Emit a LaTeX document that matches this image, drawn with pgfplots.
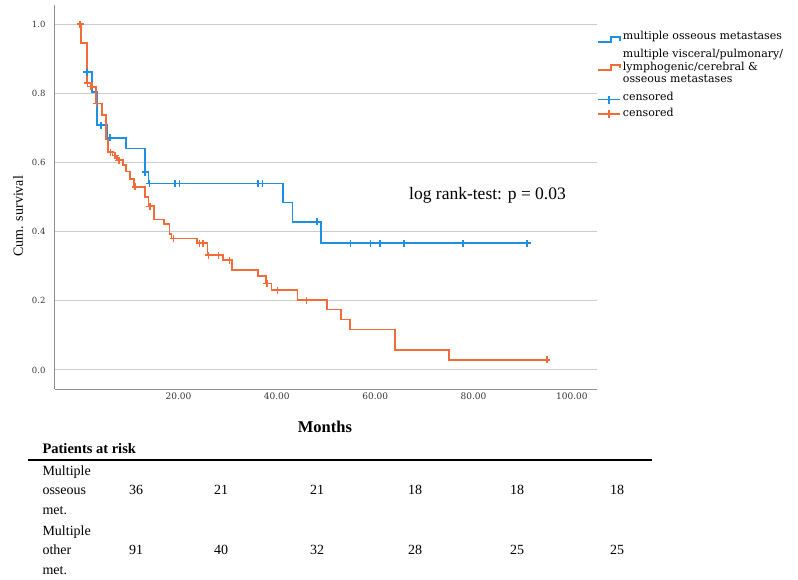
\documentclass[border=0pt]{standalone}
\usepackage{fontspec}
\setmainfont{Liberation Serif}
\newfontfamily\legfont{DejaVu Serif}
\usepackage{pgfplots}
\pgfplotsset{compat=1.18}

\definecolor{kmBlue}{HTML}{1E8FE3}
\definecolor{kmOrange}{HTML}{F26B38}
\definecolor{gridGray}{HTML}{CCCCCC}
\definecolor{axGray}{HTML}{8E8E8E}

% Kaplan-Meier steps: (month, survival), value holds until the next month
\pgfplotstableread{
t S
0.6 0.861
2.35 0.803
3.4 0.707
5.55 0.671
9.3 0.640
13.2 0.572
13.9 0.539
41.2 0.484
43.2 0.428
49.0 0.367
90.9 0.367
}\osseous
\pgfplotstableread{
t S
1.36 0.861
4.3 0.707
6.1 0.671
13.2 0.572
14.1 0.539
19.3 0.539
20.2 0.539
36.2 0.539
37.1 0.539
48.2 0.428
55.0 0.367
59.0 0.367
61.0 0.367
65.9 0.367
77.9 0.367
90.9 0.367
}\osseouscens
\pgfplotstableread{
t S
0 1.0
0.15 0.945
1.36 0.829
2.4 0.819
3.25 0.770
4.4 0.736
5.35 0.667
5.75 0.630
6.6 0.620
7.5 0.606
8.8 0.592
9.4 0.574
10.2 0.553
11.0 0.529
13.2 0.500
13.9 0.473
15.0 0.435
17.1 0.421
18.2 0.394
18.6 0.380
23.7 0.366
25.9 0.332
29.1 0.317
30.9 0.290
36.1 0.271
37.8 0.250
38.9 0.231
44.2 0.202
50.2 0.175
53.0 0.146
54.9 0.117
64.0 0.058
75.0 0.029
94.9 0.029
}\other
\pgfplotstableread{
t S
0 1.0
1.5 0.829
2.2 0.819
3.3 0.770
6.15 0.630
7.1 0.620
7.9 0.606
11.2 0.529
14.2 0.473
19.0 0.380
24.3 0.366
25.0 0.366
26.1 0.332
28.1 0.332
30.4 0.317
38.0 0.250
40.1 0.231
46.0 0.202
94.9 0.029
}\othercens

\pgfplotsset{
  steplegend/.style={legend image code/.code={
    \draw[line width=1.7pt] (0pt,-2.5pt) -- (13pt,-2.5pt) -- (13pt,2.5pt) -- (22pt,2.5pt) -- (22pt,-1pt);}},
  censlegend/.style={legend image code/.code={
    \draw[line width=1.7pt] (0pt,0pt) -- (22pt,0pt);
    \draw[line width=1.7pt] (11pt,-4pt) -- (11pt,4pt);}},
}

\begin{document}
\begin{tikzpicture}
\begin{axis}[
  name=ax,
  scale only axis, width=542pt, height=384pt,
  xmin=-5.1, xmax=105.1, ymin=-0.055, ymax=1.055,
  axis x line=bottom, axis y line=left,
  axis line style={-, draw=axGray, line width=1pt},
  xtick={20,40,60,80,100},
  ytick={0,0.2,0.4,0.6,0.8,1.0},
  major tick length=0pt,
  ymajorgrids, grid style={gridGray, line width=1pt},
  xticklabel style={font=\legfont\fontsize{9}{10}\selectfont, text=black!80,
    /pgf/number format/.cd, fixed, fixed zerofill, precision=2, assume math mode=true},
  yticklabel style={font=\legfont\fontsize{8.5}{10}\selectfont, text=black!80, xshift=-6pt,
    /pgf/number format/.cd, fixed, fixed zerofill, precision=1, assume math mode=true},
  xlabel={Months},
  xlabel style={at={(axis description cs:0.498,-0.099)}, anchor=center,
    font=\bfseries\fontsize{16.5}{19}\selectfont},
  ylabel={Cum. survival},
  ylabel style={at={(axis description cs:-0.068,0.45)}, anchor=center,
    font=\fontsize{14}{16}\selectfont},
  legend style={at={(1.0,0.932)}, anchor=north west, draw=none, fill=none,
    font=\legfont\fontsize{11}{13}\selectfont, inner xsep=0pt, inner ysep=0pt,
    row sep=1pt, nodes={text height=8pt, text depth=2.6pt, inner ysep=0.5pt}},
  legend cell align=left,
]
\addplot[const plot, color=kmBlue, line width=1.8pt, steplegend] table[x=t, y=S] {\osseous};
\addlegendentry[text depth=7.6pt]{multiple osseous metastases}
\addlegendimage{empty legend}
\addlegendentry{multiple visceral/pulmonary/}
\addplot[const plot, color=kmOrange, line width=1.8pt, steplegend] table[x=t, y=S] {\other};
\addlegendentry{lymphogenic/cerebral \&}
\addlegendimage{empty legend}
\addlegendentry[text depth=7.6pt]{osseous metastases}
\addplot[only marks, color=kmBlue, mark=+, mark size=3.5pt, line width=1.5pt, censlegend] table[x=t, y=S] {\osseouscens};
\addlegendentry[text depth=6.6pt]{censored}
\addplot[only marks, color=kmOrange, mark=+, mark size=3.5pt, line width=1.5pt, censlegend] table[x=t, y=S] {\othercens};
\addlegendentry{censored}
\node[anchor=west, font=\fontsize{17.5}{20}\selectfont] at (axis cs:66.2,0.506) {log rank-test: p = 0.03};
\end{axis}

% patients at risk table, positions in pt from the frame's lower left corner
\begin{scope}[shift={(ax.south west)}, x=1pt, y=1pt]
\node[anchor=west, font=\bfseries\fontsize{14.5}{16}\selectfont] at (-16,-60) {Patients at risk};
\draw[line width=1.6pt] (-27,-71) -- (597,-71);
\node[anchor=west, align=left, font=\fontsize{14}{19.5}\selectfont] at (-16,-101) {Multiple\\osseous\\met.};
\node[anchor=west, align=left, font=\fontsize{14}{19.5}\selectfont] at (-16,-161) {Multiple\\other\\met.};
\foreach \x/\a/\b in {81/36/91, 166/21/40, 262/21/32, 360/18/28, 462/18/25, 562/18/25} {
  \node[font=\fontsize{14}{16}\selectfont] at (\x,-101) {\a};
  \node[font=\fontsize{14}{16}\selectfont] at (\x,-161) {\b};
}
\end{scope}

\pgfresetboundingbox
\path[use as bounding box] (ax.south west) ++(-55pt,-190pt) rectangle ++(798pt,579pt);
\end{tikzpicture}
\end{document}
